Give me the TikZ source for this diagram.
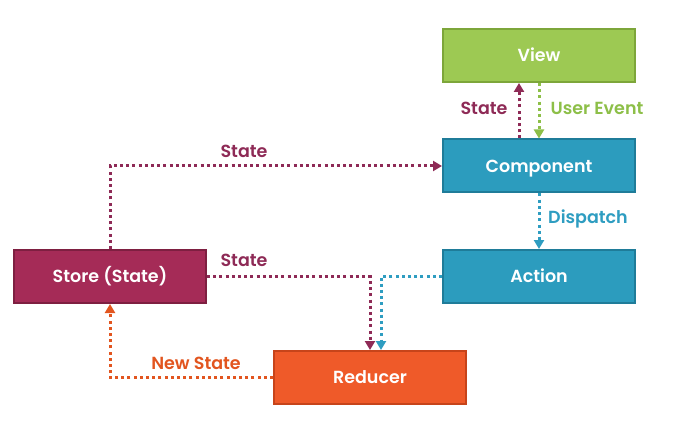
\documentclass[tikz,border=0pt]{standalone}
\usepackage{fontspec}
\setmainfont{Poppins SemiBold}
\usetikzlibrary{arrows.meta}
\definecolor{vfill}{HTML}{9DC953}
\definecolor{vdraw}{HTML}{7DA63A}
\definecolor{bfill}{HTML}{2C9CBE}
\definecolor{bdraw}{HTML}{1F7C99}
\definecolor{sfill}{HTML}{A52B57}
\definecolor{sdraw}{HTML}{7E1F41}
\definecolor{rfill}{HTML}{EF5A29}
\definecolor{rdraw}{HTML}{C7441A}
\definecolor{cpur}{HTML}{8E2A56}
\definecolor{cgrn}{HTML}{8DBF48}
\definecolor{cblu}{HTML}{2E9DC1}
\definecolor{corg}{HTML}{E2551F}
\tikzset{
  box/.style={draw, line width=2pt, minimum width=192pt, minimum height=53pt, text=white, font=\fontsize{17.5}{20}\selectfont, inner sep=0pt, text height=12.2pt, text depth=0pt},
  conn/.style={line width=3pt, dash pattern=on 3pt off 3.2pt, -{Triangle[width=10pt,length=9pt]}, shorten >=0pt},
  lbl/.style={font=\fontsize{17.5}{20}\selectfont, inner sep=0pt, text height=12.2pt, text depth=0pt}
}
\begin{document}
\begin{tikzpicture}[x=1pt,y=1pt]
\useasboundingbox (0,0) rectangle (687,426);
\fill[white] (0,0) rectangle (687,426);
\node[box, fill=vfill, draw=vdraw] (view) at (539,370.5) {View};
\node[box, fill=bfill, draw=bdraw] (comp) at (539,260) {Component};
\node[box, fill=bfill, draw=bdraw] (action) at (539,149.5) {Action};
\node[box, fill=sfill, draw=sdraw] (store) at (110,149.5) {Store (State)};
\node[box, fill=rfill, draw=rdraw] (red) at (370,48.5) {Reducer};
% connectors
\draw[conn, cpur] (store.north) |- (comp.west);
\draw[conn, cpur] (store.east) -| (red.north);
\draw[conn, cblu] (action.west) -| ([xshift=11pt]red.north);
\draw[conn, corg] (red.west) -| (store.south);
\draw[conn, cpur] ([xshift=-20pt]comp.north) -- ([xshift=-20pt]view.south);
\draw[conn, cgrn] (view.south) -- (comp.north);
\draw[conn, cblu] (comp.south) -- (action.north);
% labels
\node[lbl, text=cpur] (l1) at (244,275) {State};
\node[lbl, text=cpur] (l2) at (244,166) {State};
\node[lbl, text=corg] (l3) at (196,63) {New State};
\node[lbl, text=cpur] (l4) at (484,318) {State};
\node[lbl, text=cgrn] (l5) at (597,318) {User Event};
\node[lbl, text=cblu] (l6) at (588,209) {Dispatch};
\end{tikzpicture}
\end{document}
